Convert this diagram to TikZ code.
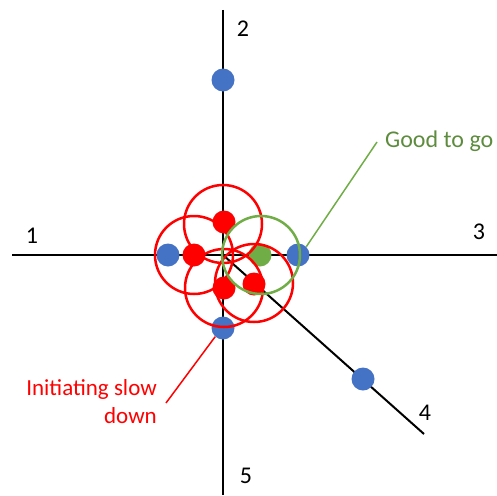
\documentclass[tikz,border=0pt]{standalone}
\usepackage{fontspec}
\setmainfont{Carlito}
\definecolor{dotblue}{RGB}{68,114,196}
\definecolor{ringgreen}{RGB}{112,173,71}
\definecolor{textgreen}{RGB}{94,140,62}
\definecolor{pured}{RGB}{255,0,0}
\begin{document}
\begin{tikzpicture}[x=1pt,y=-1pt,
  axis/.style={line width=2pt,black},
  dot/.style={circle,inner sep=0pt,minimum size=23pt},
  bluedot/.style={dot,fill=dotblue},
  reddot/.style={dot,fill=pured},
  greendot/.style={dot,fill=ringgreen},
  ring/.style={line width=2.5pt},
  leader/.style={line width=1.5pt},
  lbl/.style={inner sep=0pt,font=\fontsize{24}{28}\selectfont}
]
\useasboundingbox (0,0) rectangle (497,495);
% axes
\coordinate (o) at (223,255);
\coordinate (w) at (12,255);
\coordinate (e) at (497,255);
\coordinate (n) at (223,10);
\coordinate (s) at (223,495);
\coordinate (se) at (424,434);
\draw[axis] (w) -- (e);
\draw[axis] (n) -- (s);
\draw[axis] (o) -- (se);
% axis labels
\node[lbl] (l1) at (32,236) {1};
\node[lbl] (l2) at (243,29) {2};
\node[lbl] (l3) at (479,232) {3};
\node[lbl] (l4) at (425,413) {4};
\node[lbl] (l5) at (246,476) {5};
% dots
\node[bluedot] (b2) at (223,80) {};
\node[bluedot] (b1) at (168,255) {};
\node[bluedot] (b3) at (298,255) {};
\node[bluedot] (b5) at (223,328) {};
\node[bluedot] (b4) at (363,379) {};
\node[reddot] (r1) at (224,222) {};
\node[reddot] (r2) at (194,255) {};
\node[reddot] (r3) at (224,288) {};
\node[reddot] (r4) at (254,284) {};
\node[greendot] (g1) at (260,255) {};
% rings
\draw[ring,pured] (223,224) circle (39);
\draw[ring,pured] (194,255) circle (39);
\draw[ring,pured] (224,288) circle (39);
\draw[ring,pured] (254,283) circle (39);
\draw[ring,ringgreen] (261,255) circle (39);
% annotations
\node[lbl,text=textgreen,anchor=base west] (good) at (385,147) {Good to go};
\coordinate (gend) at (377,142);
\draw[leader,ringgreen] (b3.45) -- (gend);
\node[lbl,text=pured,align=right,anchor=north east,font=\fontsize{23}{28}\selectfont] (slow) at (157,379) {Initiating slow\\down};
\coordinate (rend) at (166,403);
\draw[leader,pured] (b5.228) -- (rend);
\end{tikzpicture}
\end{document}
